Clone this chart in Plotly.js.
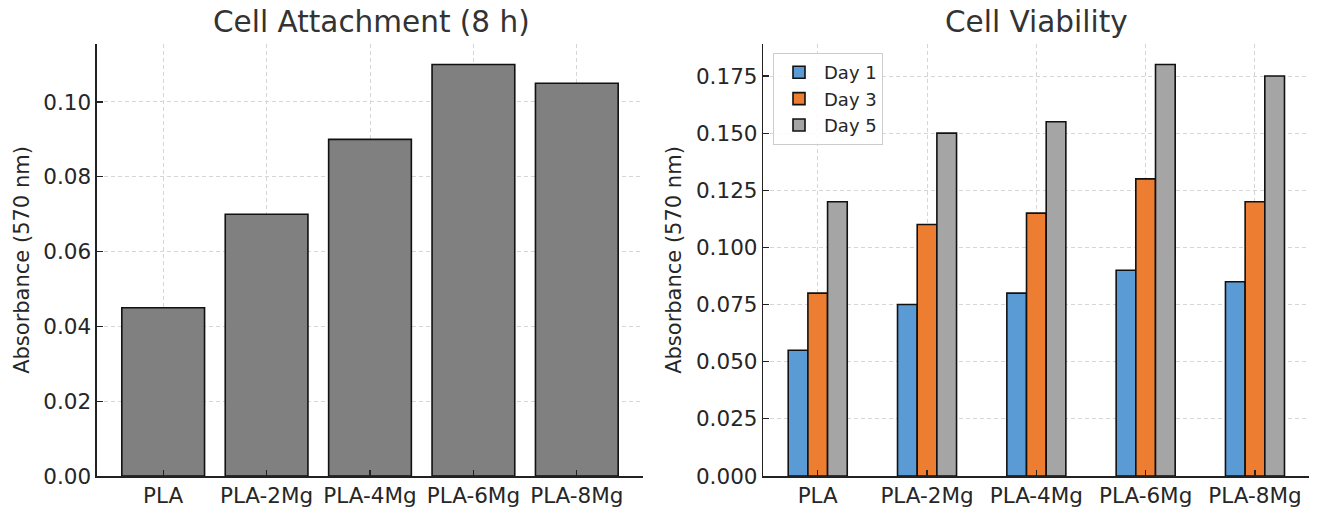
<!DOCTYPE html>
<html>
<head>
<meta charset="utf-8">
<script src="https://cdn.plot.ly/plotly-3.0.1.min.js"></script>
<style>html,body{margin:0;padding:0;background:#fff}#chart{width:1317px;height:507px}</style>
</head>
<body>
<div id="chart"></div>
<script>
const categories = ["PLA", "PLA-2Mg", "PLA-4Mg", "PLA-6Mg", "PLA-8Mg"];
const attachment = [0.045, 0.070, 0.090, 0.110, 0.105];
const day1 = [0.055, 0.075, 0.080, 0.090, 0.085];
const day3 = [0.080, 0.110, 0.115, 0.130, 0.120];
const day5 = [0.120, 0.150, 0.155, 0.180, 0.175];
const seriesNames = ["Day 1", "Day 3", "Day 5"];
const attachTicks = [0, 0.02, 0.04, 0.06, 0.08, 0.10];
const viabTicks = [0, 0.025, 0.05, 0.075, 0.1, 0.125, 0.15, 0.175];

const FONT = "DejaVu Sans, sans-serif";
const TXT = "#262626";
const edge = {color: "#111", width: 1.6};
const bw = 0.18;

const traces = [
  {type: "bar", x: categories, y: attachment, xaxis: "x", yaxis: "y", width: 0.8,
   marker: {color: "#808080", line: edge}, showlegend: false, name: "Attachment"},
  {type: "bar", x: categories, y: day1, xaxis: "x2", yaxis: "y2", width: bw, offset: -1.5*bw,
   marker: {color: "#5b9bd5", line: edge}, name: seriesNames[0]},
  {type: "bar", x: categories, y: day3, xaxis: "x2", yaxis: "y2", width: bw, offset: -0.5*bw,
   marker: {color: "#ed7d31", line: edge}, name: seriesNames[1]},
  {type: "bar", x: categories, y: day5, xaxis: "x2", yaxis: "y2", width: bw, offset: 0.5*bw,
   marker: {color: "#a5a5a5", line: edge}, name: seriesNames[2]}
];

const yb = (507-476)/507, yt = (507-44)/507;
const GRID = {showgrid: true, gridcolor: "#d6d6d6", griddash: "4px,3px", gridwidth: 1};
function xax(domain, range) {
  return Object.assign({domain: domain, range: range, type: "category", showline: true, linecolor: "#222", linewidth: 1.6,
    ticks: "inside", ticklen: 6, tickcolor: "#222", tickwidth: 1.2,
    tickfont: {family: FONT, size: 21.5, color: TXT}, zeroline: false, mirror: false, layer: "above traces"}, GRID);
}
function yax(domain, range, tickvals, fmt, anchor) {
  return Object.assign({domain: domain, range: range, anchor: anchor, showline: true, linecolor: "#222", linewidth: 1.6,
    ticks: "inside", ticklen: 6, tickcolor: "#222", tickwidth: 1.2,
    tickvals: tickvals, tickformat: fmt, zeroline: false,
    tickfont: {family: FONT, size: 21.5, color: TXT},
    title: {text: "Absorbance (570 nm)", font: {family: FONT, size: 21, color: TXT}, standoff: 8},
    layer: "above traces"}, GRID);
}

const layout = {
  width: 1317, height: 507,
  margin: {l: 0, r: 0, t: 0, b: 0},
  paper_bgcolor: "#fff", plot_bgcolor: "#fff",
  barmode: "overlay",
  font: {family: FONT, color: TXT},
  xaxis: Object.assign(xax([97/1317, 643/1317], [-0.64, 4.64]), {anchor: "y"}),
  yaxis: yax([yb, yt], [0, 0.1155], attachTicks, ".2f", "x"),
  xaxis2: Object.assign(xax([763.4/1317, 1309.3/1317], [-0.497, 4.497]), {anchor: "y2"}),
  yaxis2: yax([yb, yt], [0, 0.189], viabTicks, ".3f", "x2"),
  showlegend: true,
  legend: {x: 773/1317, y: (507-53)/507, xanchor: "left", yanchor: "top",
    bgcolor: "rgba(255,255,255,0.85)", bordercolor: "#cccccc", borderwidth: 1,
    font: {family: FONT, size: 18, color: TXT}, tracegroupgap: 0, itemwidth: 40},
  annotations: [
    {text: "Cell Attachment (8 h)", xref: "paper", yref: "paper", x: 371/1317, y: (507-22)/507,
     xanchor: "center", yanchor: "middle", showarrow: false, font: {family: FONT, size: 29.5, color: "#333"}},
    {text: "Cell Viability", xref: "paper", yref: "paper", x: 1036/1317, y: (507-22)/507,
     xanchor: "center", yanchor: "middle", showarrow: false, font: {family: FONT, size: 29.5, color: "#333"}}
  ]
};

Plotly.newPlot("chart", traces, layout, {displayModeBar: false, staticPlot: true});
</script>
</body>
</html>
